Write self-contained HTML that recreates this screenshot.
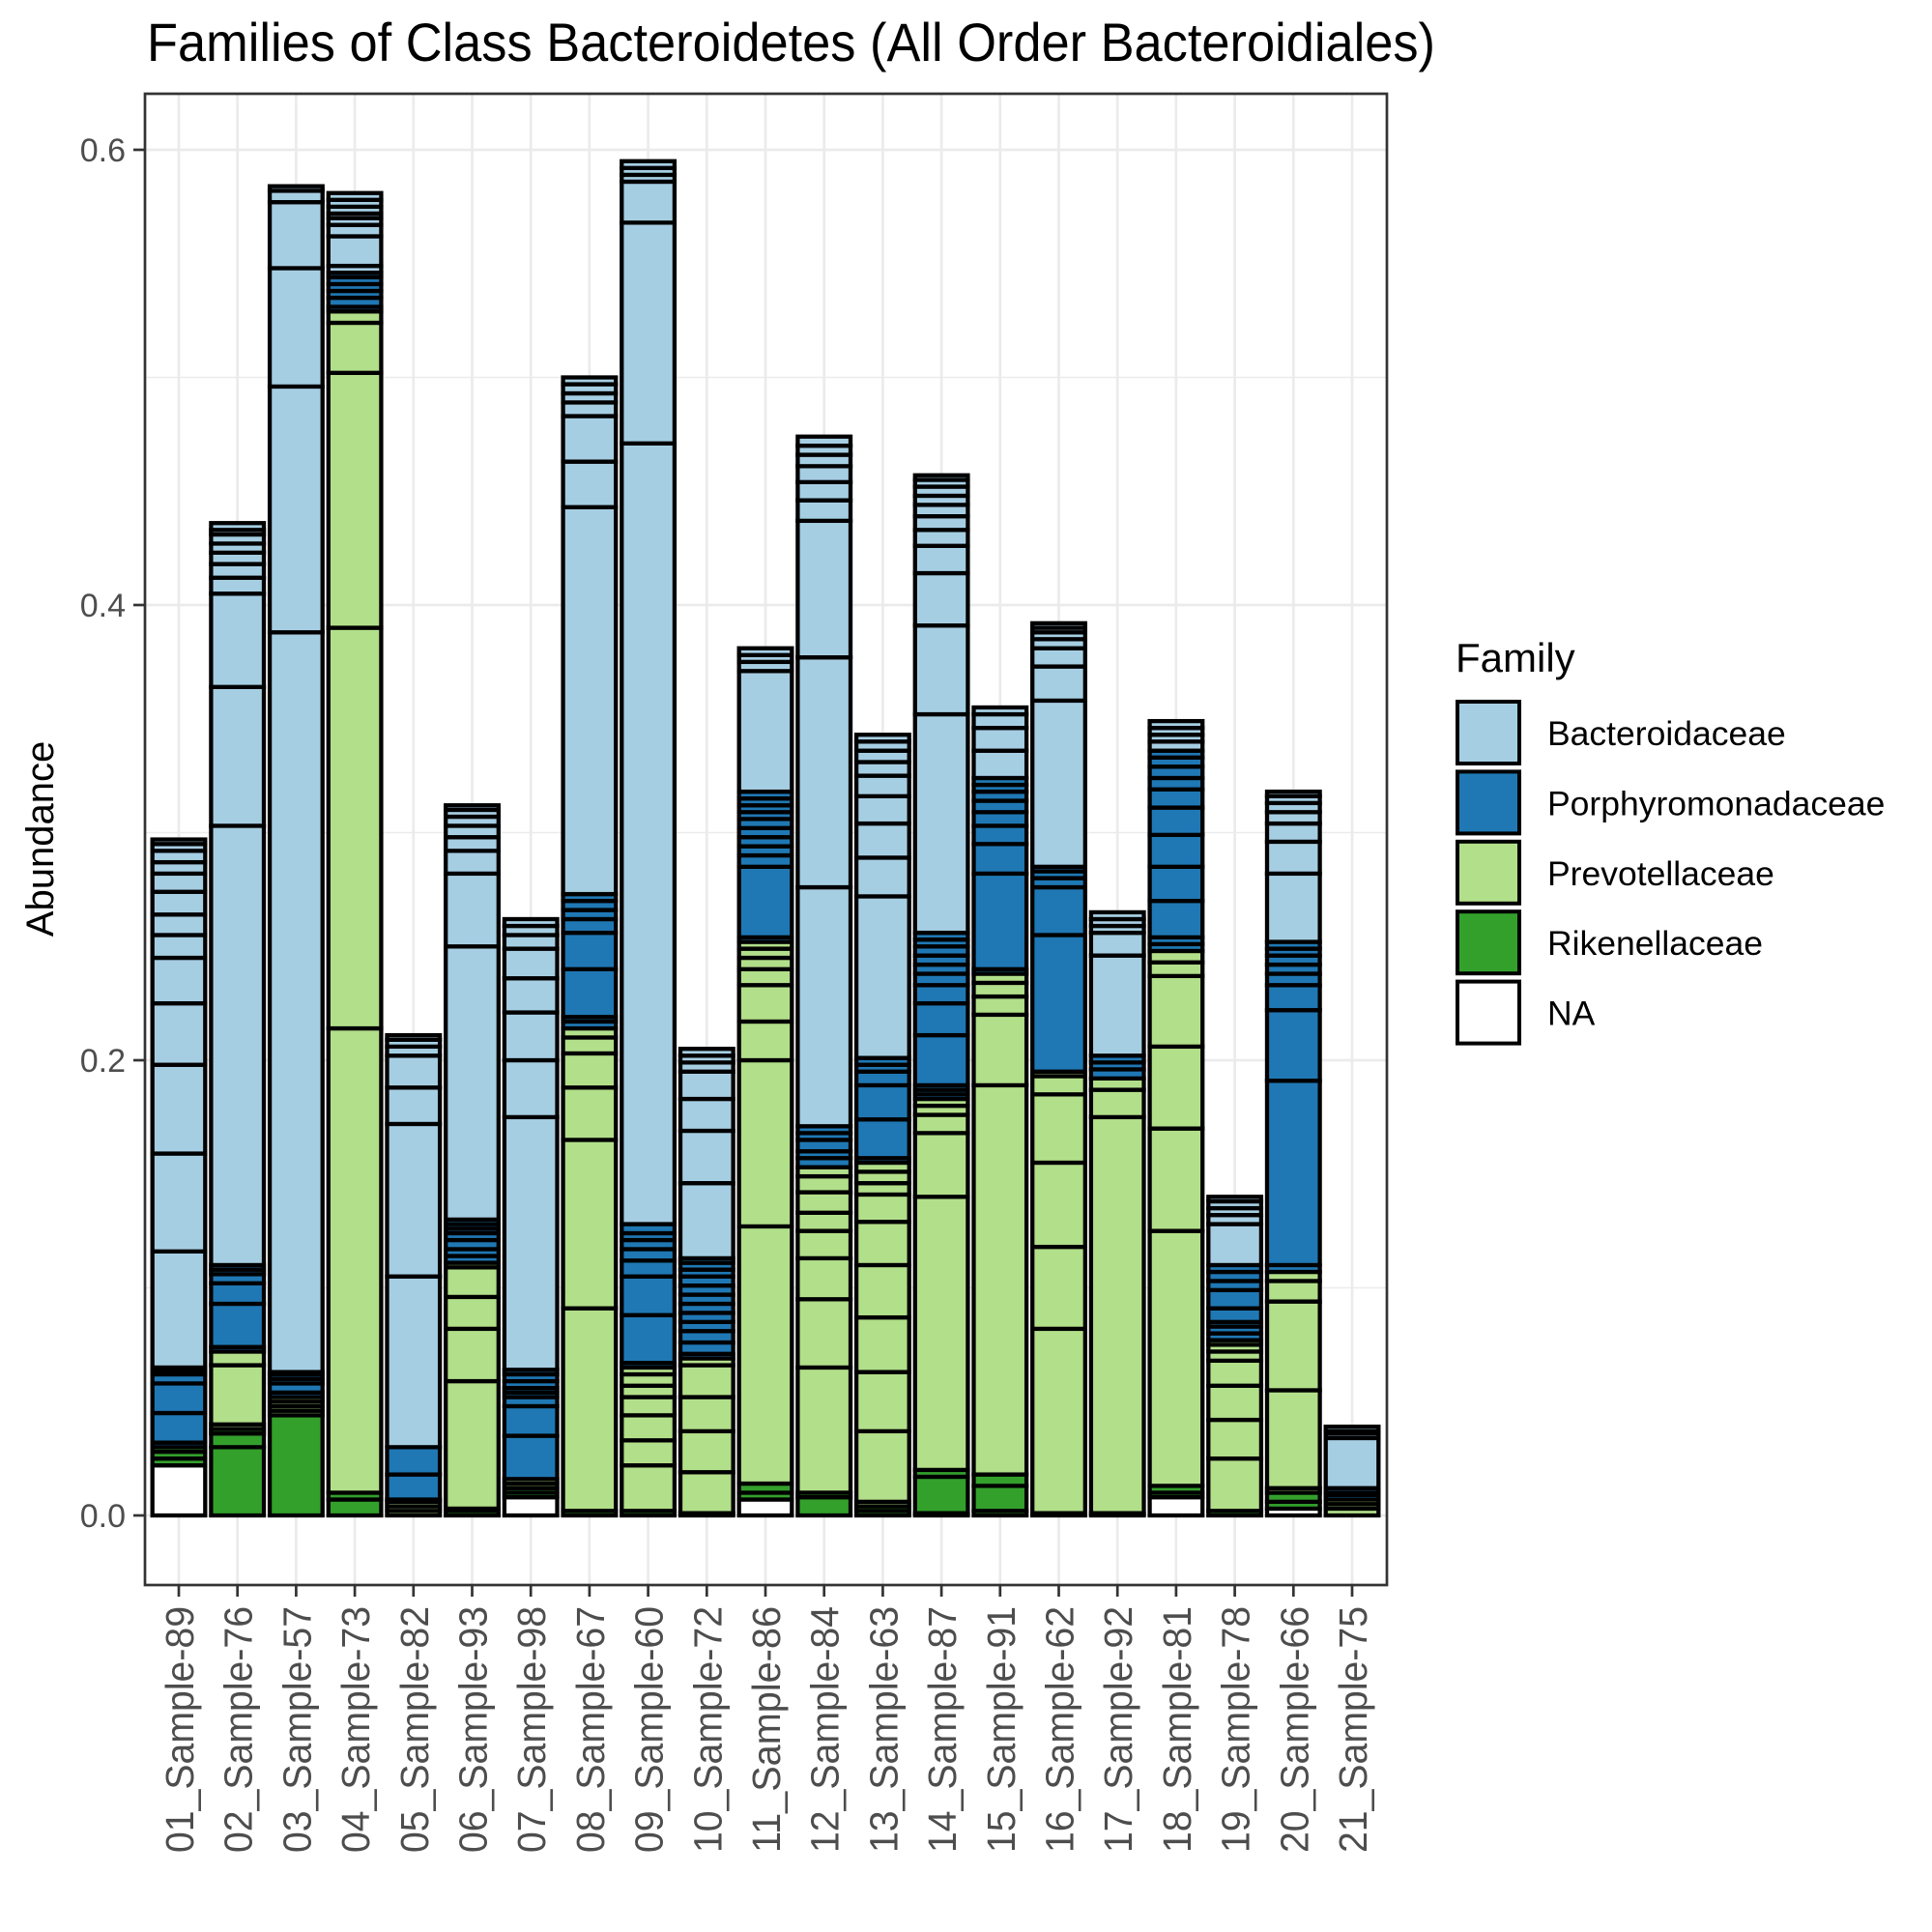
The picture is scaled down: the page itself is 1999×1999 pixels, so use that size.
<!DOCTYPE html>
<html><head><meta charset="utf-8"><style>html,body{margin:0;padding:0;background:#fff}svg{display:block}</style></head>
<body>
<svg id="chart" width="1999" height="1999" viewBox="0 0 1999 1999" xmlns="http://www.w3.org/2000/svg" font-family="Liberation Sans, Arial, sans-serif">
<rect x="0" y="0" width="1999" height="1999" fill="#fff"/>
<text x="152" y="63" font-size="56" fill="#000" textLength="1333" lengthAdjust="spacingAndGlyphs">Families of Class Bacteroidetes (All Order Bacteroidiales)</text>
<g id="grid"></g><g id="bars"></g><g id="axes"></g><g id="legend"></g>
</svg>
<script>
const categories = ["01_Sample-89","02_Sample-76","03_Sample-57","04_Sample-73","05_Sample-82","06_Sample-93","07_Sample-98","08_Sample-67","09_Sample-60","10_Sample-72","11_Sample-86","12_Sample-84","13_Sample-63","14_Sample-87","15_Sample-91","16_Sample-62","17_Sample-92","18_Sample-81","19_Sample-78","20_Sample-66","21_Sample-75"];
const families = ["Bacteroidaceae","Porphyromonadaceae","Prevotellaceae","Rikenellaceae","NA"];
const familyColors = ["#a6cee3","#1f78b4","#b2df8a","#33a02c","#ffffff"];
const yTicks = [0,0.2,0.4,0.6];
const yTickLabels = ["0.0","0.2","0.4","0.6"];
const yMinor = [0.1,0.3,0.5];
// each bar: [familyIndex, cumulative abundance at top of segment]
const bar01=[[4,.022],[3,.025],[3,.028],[3,.030],[1,.032],[1,.045],[1,.058],[1,.062],[1,.063],[1,.064],[1,.065],[0,.116],[0,.159],[0,.198],[0,.225],[0,.245],[0,.255],[0,.264],[0,.274],[0,.282],[0,.287],[0,.292],[0,.295],[0,.297]];
const bar02=[[3,.030],[3,.036],[3,.038],[2,.040],[2,.066],[2,.072],[1,.074],[1,.093],[1,.102],[1,.106],[1,.108],[1,.110],[0,.303],[0,.364],[0,.405],[0,.412],[0,.418],[0,.423],[0,.427],[0,.431],[0,.433],[0,.436]];
const bar03=[[3,.044],[2,.046],[2,.048],[2,.050],[2,.052],[1,.054],[1,.058],[1,.060],[1,.062],[1,.063],[0,.388],[0,.496],[0,.548],[0,.577],[0,.582],[0,.584]];
const bar04=[[3,.007],[3,.010],[2,.214],[2,.390],[2,.502],[2,.524],[2,.529],[1,.531],[1,.535],[1,.538],[1,.541],[1,.544],[1,.546],[0,.549],[0,.562],[0,.567],[0,.570],[0,.572],[0,.575],[0,.578],[0,.581]];
const bar05=[[2,.002],[2,.004],[2,.006],[1,.007],[1,.018],[1,.030],[0,.105],[0,.172],[0,.188],[0,.202],[0,.206],[0,.209],[0,.211]];
const bar06=[[3,.002],[2,.003],[2,.059],[2,.082],[2,.096],[2,.109],[2,.111],[1,.114],[1,.117],[1,.121],[1,.124],[1,.126],[1,.128],[1,.130],[0,.250],[0,.282],[0,.292],[0,.298],[0,.303],[0,.307],[0,.310],[0,.312]];
const bar07=[[4,.008],[3,.010],[3,.012],[2,.014],[2,.016],[1,.035],[1,.048],[1,.052],[1,.054],[1,.056],[1,.059],[1,.062],[1,.064],[0,.175],[0,.200],[0,.221],[0,.236],[0,.249],[0,.255],[0,.259],[0,.262]];
const bar08=[[3,.002],[2,.091],[2,.165],[2,.188],[2,.203],[2,.210],[2,.214],[1,.217],[1,.219],[1,.240],[1,.256],[1,.262],[1,.266],[1,.270],[1,.273],[0,.443],[0,.463],[0,.483],[0,.489],[0,.493],[0,.497],[0,.500]];
const bar09=[[3,.002],[2,.022],[2,.033],[2,.044],[2,.052],[2,.057],[2,.062],[2,.065],[1,.067],[1,.088],[1,.105],[1,.112],[1,.117],[1,.121],[1,.124],[1,.128],[0,.471],[0,.568],[0,.586],[0,.589],[0,.592],[0,.595]];
const bar10=[[2,.001],[2,.019],[2,.037],[2,.052],[2,.066],[2,.069],[1,.071],[1,.076],[1,.081],[1,.085],[1,.089],[1,.093],[1,.097],[1,.101],[1,.105],[1,.108],[1,.111],[1,.113],[0,.146],[0,.169],[0,.183],[0,.195],[0,.199],[0,.202],[0,.205]];
const bar11=[[4,.007],[3,.010],[3,.014],[2,.127],[2,.200],[2,.217],[2,.233],[2,.240],[2,.245],[2,.249],[2,.252],[1,.254],[1,.285],[1,.290],[1,.294],[1,.298],[1,.302],[1,.306],[1,.309],[1,.312],[1,.315],[1,.318],[0,.371],[0,.375],[0,.378],[0,.381]];
const bar12=[[3,.008],[3,.010],[2,.065],[2,.095],[2,.113],[2,.125],[2,.133],[2,.142],[2,.149],[2,.153],[1,.157],[1,.160],[1,.165],[1,.168],[1,.171],[0,.276],[0,.377],[0,.437],[0,.446],[0,.454],[0,.461],[0,.466],[0,.470],[0,.474]];
const bar13=[[3,.002],[3,.004],[2,.006],[2,.037],[2,.063],[2,.087],[2,.110],[2,.129],[2,.141],[2,.146],[2,.151],[2,.155],[1,.157],[1,.174],[1,.189],[1,.195],[1,.198],[1,.201],[0,.272],[0,.289],[0,.304],[0,.316],[0,.325],[0,.331],[0,.336],[0,.340],[0,.343]];
const bar14=[[3,.001],[3,.017],[3,.020],[2,.140],[2,.168],[2,.176],[2,.180],[2,.183],[1,.185],[1,.187],[1,.189],[1,.211],[1,.225],[1,.233],[1,.238],[1,.242],[1,.246],[1,.250],[1,.253],[1,.256],[0,.352],[0,.391],[0,.414],[0,.426],[0,.433],[0,.439],[0,.444],[0,.448],[0,.452],[0,.455],[0,.457]];
const bar15=[[3,.002],[3,.013],[3,.018],[2,.189],[2,.220],[2,.228],[2,.234],[2,.238],[1,.240],[1,.282],[1,.295],[1,.303],[1,.309],[1,.314],[1,.318],[1,.321],[1,.324],[0,.336],[0,.346],[0,.352],[0,.355]];
const bar16=[[3,.001],[2,.082],[2,.118],[2,.155],[2,.185],[2,.193],[2,.195],[1,.255],[1,.276],[1,.280],[1,.283],[1,.285],[0,.358],[0,.373],[0,.381],[0,.385],[0,.388],[0,.390],[0,.392]];
const bar17=[[2,.001],[2,.175],[2,.187],[2,.192],[1,.196],[1,.199],[1,.202],[0,.246],[0,.256],[0,.259],[0,.262],[0,.265]];
const bar18=[[4,.008],[3,.010],[3,.013],[2,.125],[2,.170],[2,.206],[2,.237],[2,.243],[2,.248],[1,.251],[1,.254],[1,.270],[1,.285],[1,.299],[1,.311],[1,.319],[1,.324],[1,.329],[1,.333],[1,.336],[0,.340],[0,.343],[0,.346],[0,.349]];
const bar19=[[3,.002],[2,.025],[2,.042],[2,.057],[2,.068],[2,.072],[2,.075],[2,.077],[1,.080],[1,.083],[1,.085],[1,.091],[1,.099],[1,.103],[1,.107],[1,.110],[0,.128],[0,.132],[0,.135],[0,.138],[0,.140]];
const bar20=[[4,.003],[3,.006],[3,.010],[2,.012],[2,.055],[2,.094],[2,.103],[2,.107],[1,.110],[1,.191],[1,.222],[1,.233],[1,.238],[1,.242],[1,.246],[1,.249],[1,.252],[0,.282],[0,.296],[0,.304],[0,.309],[0,.313],[0,.316],[0,.318]];
const bar21=[[2,.003],[2,.005],[2,.007],[1,.009],[1,.010],[1,.012],[0,.034],[0,.036],[0,.037],[0,.039]];
const barSegments=[bar01,bar02,bar03,bar04,bar05,bar06,bar07,bar08,bar09,bar10,bar11,bar12,bar13,bar14,bar15,bar16,bar17,bar18,bar19,bar20,bar21];

const NS="http://www.w3.org/2000/svg";
const P={l:150,r:1435,t:97,b:1640};
const step=(1399-185)/20;
function xScale(i){return 185+i*step;}
function yScale(v){return 1568-v*2355;}
function mk(tag,attrs,parent){const e=document.createElementNS(NS,tag);for(const k in attrs)e.setAttribute(k,attrs[k]);parent.appendChild(e);return e;}
const grid=document.getElementById('grid'),bars=document.getElementById('bars'),axes=document.getElementById('axes'),legend=document.getElementById('legend');
mk('rect',{x:P.l,y:P.t,width:P.r-P.l,height:P.b-P.t,fill:'#fff'},grid);
yMinor.forEach(v=>{const l=mk('line',{x1:P.l,x2:P.r,y1:yScale(v),y2:yScale(v),stroke:'#ebebeb','stroke-width':1.4},grid);

});
yTicks.forEach(v=>{const l=mk('line',{x1:P.l,x2:P.r,y1:yScale(v),y2:yScale(v),stroke:'#ebebeb','stroke-width':2.7},grid);

});
categories.forEach((c,i)=>{const l=mk('line',{x1:xScale(i),x2:xScale(i),y1:P.t,y2:P.b,stroke:'#ebebeb','stroke-width':2.7},grid);

});
const bw=step*0.9;
barSegments.forEach((segs,i)=>{
  const g=mk('g',{},bars);
  
  
  let prev=0;
  segs.forEach(s=>{
    const y1=yScale(s[1]),y0=yScale(prev);
    const r=mk('rect',{x:xScale(i)-bw/2,y:y1,width:bw,height:Math.max(0,y0-y1),fill:familyColors[s[0]],stroke:'#000','stroke-width':4.3},g);
    
    
    prev=s[1];
  });
});
const border=mk('rect',{x:P.l,y:P.t,width:P.r-P.l,height:P.b-P.t,fill:'none',stroke:'#333','stroke-width':2.7},axes);


yTicks.forEach((v,i)=>{
  mk('line',{x1:P.l-12,x2:P.l,y1:yScale(v),y2:yScale(v),stroke:'#333','stroke-width':2.7},axes);
  const t=mk('text',{x:P.l-20,y:yScale(v)+12,'text-anchor':'end','font-size':34,fill:'#4d4d4d'},axes);
  t.textContent=yTickLabels[i];
  
  
});
categories.forEach((c,i)=>{
  const x=xScale(i);
  mk('line',{x1:x,x2:x,y1:P.b,y2:P.b+12,stroke:'#333','stroke-width':2.7},axes);
  const t=mk('text',{x:0,y:0,'text-anchor':'end','font-size':41,fill:'#4d4d4d',textLength:255,lengthAdjust:'spacingAndGlyphs',transform:`translate(${x+15},${P.b+22}) rotate(-90)`},axes);
  t.textContent=c;
  
  
});
const yt=mk('text',{x:0,y:0,'text-anchor':'middle','font-size':40,fill:'#000',transform:'translate(55,868) rotate(-90)'},axes);
yt.textContent='Abundance';


const lt=mk('text',{x:1506,y:695,'font-size':42,fill:'#000'},legend);
lt.textContent='Family';


families.forEach((f,i)=>{
  const y=726+i*72.4;
  const g=mk('g',{},legend);
  
  
  mk('rect',{x:1508,y:y,width:64,height:64,fill:familyColors[i],stroke:'#000','stroke-width':4},g);
  const t=mk('text',{x:1601,y:y+45,'font-size':35.5,fill:'#000'},g);
  t.textContent=f;
});
</script>
</body></html>
